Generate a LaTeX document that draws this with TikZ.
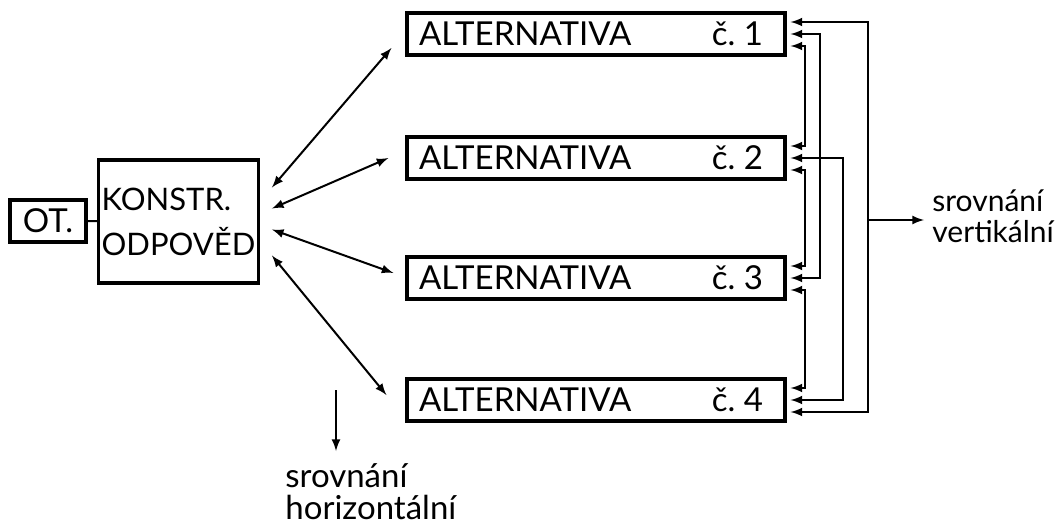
\documentclass[tikz,border=0pt]{standalone}
\usepackage{fontspec}
\setmainfont{Lato}
\usetikzlibrary{positioning}
\tikzset{
  box/.style={draw, line width=1.6pt, inner sep=1.5pt, font=\fontsize{16.5}{22.5}\selectfont},
  altbox/.style={box, minimum width=189pt, minimum height=21pt, inner xsep=0pt},
  conn/.style={<->, >=latex, line width=1pt},
  lbl/.style={align=left, inner sep=0pt, font=\fontsize{15}{15.5}\selectfont}
}
\newcommand{\altlabel}[1]{\makebox[189pt][l]{\hspace*{6pt}ALTERNATIVA\hfill č.~#1\hspace*{11pt}}}

\begin{document}
\begin{tikzpicture}[x=0.5pt, y=-0.5pt]
  \useasboundingbox (0,0) rectangle (1062,525);

  % boxes
  \node[box, minimum width=38pt, minimum height=21pt] (ot) at (48,221) {OT.};
  \node[box, minimum width=76.5pt, minimum height=61.5pt, align=left, font=\fontsize{15.5}{22.5}\selectfont] (kon) at (178.5,221.5) {KONSTR.\\ODPOVĚD};
  \node[altbox] (alt1) at (596,34) {\altlabel{1}};
  \node[altbox] (alt2) at (596,158) {\altlabel{2}};
  \node[altbox] (alt3) at (596,278) {\altlabel{3}};
  \node[altbox] (alt4) at (596,400) {\altlabel{4}};

  \draw[line width=1pt] (ot) -- (kon);

  % constructed answer <-> alternatives
  \draw[conn] ([xshift=6pt,yshift=17pt]kon.east) -- ([xshift=-7pt,yshift=-7pt]alt1.west);
  \draw[conn] ([xshift=6pt,yshift=6.5pt]kon.east) -- ([xshift=-8.5pt]alt2.west);
  \draw[conn] ([xshift=6pt,yshift=-4pt]kon.east) -- ([xshift=-6pt,yshift=2.5pt]alt3.west);
  \draw[conn] ([xshift=6pt,yshift=-17pt]kon.east) -- ([xshift=-9.5pt,yshift=2.5pt]alt4.west);

  % ports on the right side
  \foreach \i in {1,...,4}
  {
      \coordinate (a\i u) at ([xshift=2pt,yshift=6pt]alt\i.east);
      \coordinate (a\i m) at ([xshift=2pt]alt\i.east);
      \coordinate (a\i d) at ([xshift=2pt,yshift=-6pt]alt\i.east);
  }
  \coordinate (xa) at (805,0);
  \coordinate (xb) at (820,0);
  \coordinate (xc) at (843,0);
  \coordinate (xd) at (868,0);

  % vertical comparison
  \draw[conn] (a1u) -- (a1u -| xd) -- (a4d -| xd) -- (a4d);
  \draw[conn] (a1m) -- (a1m -| xb) -- (a3m -| xb) -- (a3m);
  \draw[conn] (a1d) -- (a1d -| xa) -- (a2u -| xa) -- (a2u);
  \draw[conn] (a2m) -- (a2m -| xc) -- (a4m -| xc) -- (a4m);
  \draw[conn] (a2d) -- (a2d -| xa) -- (a3u -| xa) -- (a3u);
  \draw[conn] (a3d) -- (a3d -| xa) -- (a4u -| xa) -- (a4u);

  \coordinate (vmid) at (868,220);
  \node[lbl, anchor=west] (vert) at (932,216) {srovnání\\vertikální};
  \draw[->, >=latex, line width=1pt, shorten >=4pt] (vmid) -- (vmid -| vert.west);

  % horizontal comparison
  \node[lbl, anchor=north west, font=\fontsize{16.5}{16}\selectfont] (horiz) at (285,463) {srovnání\\horizontální};
  \coordinate (hstart) at (336,390);
  \draw[->, >=latex, line width=1pt, shorten >=6pt] (hstart) -- (hstart |- horiz.north);
\end{tikzpicture}
\end{document}
